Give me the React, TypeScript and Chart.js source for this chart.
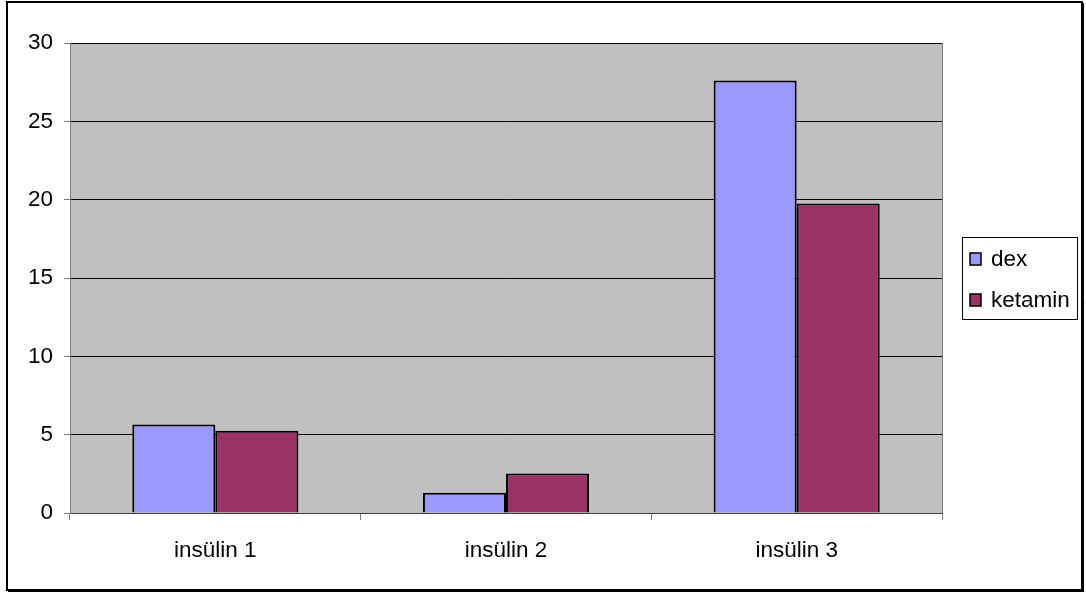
import React, { useEffect, useRef } from "react";
import { Chart, registerables } from "chart.js";

Chart.register(...registerables);

const categories = ["insülin 1", "insülin 2", "insülin 3"];
const dexValues = [5.65, 1.3, 27.6];
const ketaminValues = [5.25, 2.52, 19.75];
const seriesNames = ["dex", "ketamin"];
const seriesColors = ["#9999FF", "#993366"];
const yTicks = [0, 5, 10, 15, 20, 25, 30];

const FONT = '"Liberation Sans", Arial, sans-serif';

// Frame, plot background and the boxed legend on the right.
const decorations = {
  id: "decorations",
  beforeDraw(chart: any) {
    const { ctx, width, height, chartArea: a } = chart;
    ctx.save();
    ctx.fillStyle = "#ffffff";
    ctx.fillRect(0, 0, width, height);
    ctx.fillStyle = "#C0C0C0";
    ctx.fillRect(a.left, a.top, a.right - a.left, a.bottom - a.top);
    ctx.restore();
  },
  afterDraw(chart: any) {
    const { ctx, chartArea: a } = chart;
    ctx.save();
    // plot area outline (right edge)
    ctx.strokeStyle = "#808080";
    ctx.lineWidth = 1;
    ctx.beginPath();
    ctx.moveTo(a.right + 0.5, a.top);
    ctx.lineTo(a.right + 0.5, a.bottom);
    ctx.stroke();

    // outer frame
    ctx.strokeStyle = "#000000";
    ctx.lineWidth = 2;
    ctx.strokeRect(7, 2, 1075, 588);
    ctx.lineWidth = 1;
    ctx.beginPath();
    ctx.moveTo(1083.5, 3);
    ctx.lineTo(1083.5, 592);
    ctx.moveTo(8, 591.5);
    ctx.lineTo(1084, 591.5);
    ctx.stroke();

    // legend
    const lx = 962, ly = 237, lw = 115, lh = 82;
    ctx.strokeStyle = "#000000";
    ctx.lineWidth = 1;
    ctx.strokeRect(lx + 0.5, ly + 0.5, lw, lh);
    ctx.font = `22.5px ${FONT}`;
    ctx.textBaseline = "middle";
    ctx.textAlign = "left";
    const rows = [259, 300];
    seriesNames.forEach((name, i) => {
      const cy = rows[i];
      ctx.fillStyle = seriesColors[i];
      ctx.fillRect(970, cy - 6, 11, 12);
      ctx.strokeStyle = "#000000";
      ctx.lineWidth = 1.5;
      ctx.strokeRect(970, cy - 6, 11, 12);
      ctx.fillStyle = "#000000";
      ctx.fillText(name, 991, cy + 1);
    });
    ctx.restore();
  },
};

export default function App() {
  const canvasRef = useRef<HTMLCanvasElement | null>(null);

  useEffect(() => {
    const canvas = canvasRef.current;
    if (!canvas) return;
    const chart = new Chart(canvas, {
      type: "bar",
      data: {
        labels: categories,
        datasets: [
          {
            label: seriesNames[0],
            data: dexValues,
            backgroundColor: seriesColors[0],
            borderColor: "#000000",
            borderWidth: 2,
            categoryPercentage: 1 / 1.75,
            barPercentage: 1,
          },
          {
            label: seriesNames[1],
            data: ketaminValues,
            backgroundColor: seriesColors[1],
            borderColor: "#000000",
            borderWidth: 2,
            categoryPercentage: 1 / 1.75,
            barPercentage: 1,
          },
        ],
      },
      options: {
        responsive: false,
        animation: false,
        devicePixelRatio: 1,
        layout: { padding: { left: 0, top: 43, right: 144, bottom: 0 } },
        plugins: {
          legend: { display: false },
          tooltip: { enabled: false },
          title: { display: false },
        },
        scales: {
          x: {
            afterFit: (s: any) => {
              s.height = 81;
            },
            grid: {
              drawOnChartArea: false,
              drawTicks: true,
              tickLength: 7,
              tickColor: "#808080",
              offset: true,
            },
            border: { display: true, color: "#404040", width: 1 },
            ticks: {
              color: "#000000",
              padding: 17,
              font: { family: FONT, size: 22.5 },
            },
          },
          y: {
            min: 0,
            max: 30,
            afterFit: (s: any) => {
              s.width = 70;
            },
            afterBuildTicks: (s: any) => {
              s.ticks = yTicks.map((v) => ({ value: v }));
            },
            grid: {
              color: "#000000",
              lineWidth: 1,
              drawTicks: true,
              tickLength: 6,
              tickColor: "#808080",
            },
            border: { display: true, color: "#808080", width: 1 },
            ticks: {
              color: "#000000",
              padding: 11,
              font: { family: FONT, size: 22.5 },
            },
          },
        },
      },
      plugins: [decorations],
    });
    return () => chart.destroy();
  }, []);

  return (
    <div style={{ position: "fixed", left: 0, top: 0, width: 1086, height: 594 }}>
      <canvas ref={canvasRef} width={1086} height={594} style={{ width: 1086, height: 594 }} />
    </div>
  );
}
